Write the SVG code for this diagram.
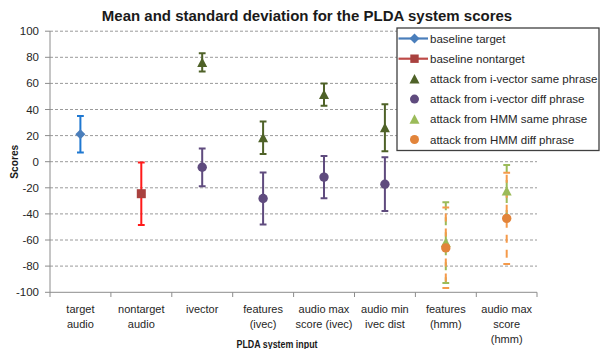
<svg xmlns="http://www.w3.org/2000/svg" width="601" height="349" viewBox="0 0 601 349">
  <style>
    text { font-family: "Liberation Sans", Arial, sans-serif; fill: #1a1a1a; }
    .title { font-size: 15px; font-weight: bold; }
    .tick { font-size: 11.5px; text-anchor: end; fill: #262626; }
    .cat { font-size: 11px; text-anchor: middle; fill: #262626; }
    .axt { font-size: 10.5px; font-weight: bold; }
    .leg { font-size: 11.5px; fill: #262626; }
    .grid { stroke: #9a9a9a; stroke-width: 1; stroke-dasharray: 3 2; }
    .axis { stroke: #8c8c8c; stroke-width: 1; fill: none; }
    .bar { stroke-width: 2; fill: none; }
    .blue { stroke: #1f78d1; }
    .red { stroke: #ff1a1a; }
    .olive { stroke: #4f6228; }
    .purple { stroke: #5f4b7e; }
    .lgreen { stroke: #9bbb59; }
    .orange { stroke: #f59a4a; }
    .dash { stroke-dasharray: 8 7; }
  </style>
  <defs>
    <path id="tri" d="M0,-5 L5,4.5 L-5,4.5 Z"/>
    <path id="dia" d="M0,-5 L5,0 L0,5 L-5,0 Z"/>
  </defs>

  <rect width="601" height="349" fill="#ffffff"/>

  <text class="title" x="307" y="20.5" text-anchor="middle">Mean and standard deviation for the PLDA system scores</text>

  <!-- gridlines every 20 units -->
  <g id="grid">
    <line class="grid" x1="50" y1="31.2" x2="537" y2="31.2"/>
    <line class="grid" x1="50" y1="57.3" x2="537" y2="57.3"/>
    <line class="grid" x1="50" y1="83.4" x2="537" y2="83.4"/>
    <line class="grid" x1="50" y1="109.5" x2="537" y2="109.5"/>
    <line class="grid" x1="50" y1="135.6" x2="537" y2="135.6"/>
    <line class="grid" x1="50" y1="161.7" x2="537" y2="161.7"/>
    <line class="grid" x1="50" y1="187.8" x2="537" y2="187.8"/>
    <line class="grid" x1="50" y1="213.9" x2="537" y2="213.9"/>
    <line class="grid" x1="50" y1="240.0" x2="537" y2="240.0"/>
    <line class="grid" x1="50" y1="266.1" x2="537" y2="266.1"/>
  </g>

  <!-- axes -->
  <g id="axes">
    <path class="axis" d="M50,31.2 V292.3 H537"/>
    <path class="axis" d="M45,31.2 H50 M45,57.3 H50 M45,83.4 H50 M45,109.5 H50 M45,135.6 H50 M45,161.7 H50 M45,187.8 H50 M45,213.9 H50 M45,240 H50 M45,266.1 H50 M45,292.3 H50"/>
    <path class="axis" d="M50,292.3 V297 M110.9,292.3 V297 M171.8,292.3 V297 M232.7,292.3 V297 M293.6,292.3 V297 M354.5,292.3 V297 M415.4,292.3 V297 M476.3,292.3 V297 M537,292.3 V297"/>
    <text class="tick" x="39" y="35.2">100</text>
    <text class="tick" x="39" y="61.3">80</text>
    <text class="tick" x="39" y="87.4">60</text>
    <text class="tick" x="39" y="113.5">40</text>
    <text class="tick" x="39" y="139.6">20</text>
    <text class="tick" x="39" y="165.7">0</text>
    <text class="tick" x="39" y="191.8">-20</text>
    <text class="tick" x="39" y="217.9">-40</text>
    <text class="tick" x="39" y="244">-60</text>
    <text class="tick" x="39" y="270.1">-80</text>
    <text class="tick" x="39" y="296.3">-100</text>
    <text class="axt" transform="translate(17.5,161.7) rotate(-90)" text-anchor="middle" textLength="34" lengthAdjust="spacingAndGlyphs">Scores</text>
  </g>

  <!-- category labels -->
  <g id="categories">
    <text class="cat" x="80.4" y="312.5">target</text>
    <text class="cat" x="80.4" y="327.5">audio</text>
    <text class="cat" x="141.3" y="312.5">nontarget</text>
    <text class="cat" x="141.3" y="327.5">audio</text>
    <text class="cat" x="202.2" y="312.5">ivector</text>
    <text class="cat" x="263.1" y="312.5">features</text>
    <text class="cat" x="263.1" y="327.5">(ivec)</text>
    <text class="cat" x="324" y="312.5">audio max</text>
    <text class="cat" x="324" y="327.5">score (ivec)</text>
    <text class="cat" x="384.9" y="312.5">audio min</text>
    <text class="cat" x="384.9" y="327.5">ivec dist</text>
    <text class="cat" x="445.8" y="312.5">features</text>
    <text class="cat" x="445.8" y="327.5">(hmm)</text>
    <text class="cat" x="506.7" y="312.5">audio max</text>
    <text class="cat" x="506.7" y="327.5">score</text>
    <text class="cat" x="506.7" y="342.5">(hmm)</text>
    <text class="axt" x="277" y="347.5" text-anchor="middle" textLength="81" lengthAdjust="spacingAndGlyphs">PLDA system input</text>
  </g>

  <!-- error bars (mean ± std) -->
  <g id="error-bars">
    <path class="bar blue" d="M80.4,116 V152.6 M77,116 H83.8 M77,152.6 H83.8"/>
    <path class="bar red" d="M141.3,162.4 V225 M137.9,162.4 H144.7 M137.9,225 H144.7"/>

    <path class="bar olive" d="M202.2,53.3 V71.6 M198.8,53.3 H205.6 M198.8,71.6 H205.6"/>
    <path class="bar olive" d="M263.1,121.6 V154 M259.7,121.6 H266.5 M259.7,154 H266.5"/>
    <path class="bar olive" d="M324,83.4 V105.8 M320.6,83.4 H327.4 M320.6,105.8 H327.4"/>
    <path class="bar olive" d="M384.9,104.3 V151.3 M381.5,104.3 H388.3 M381.5,151.3 H388.3"/>

    <path class="bar purple" d="M202.2,148.4 V186.2 M198.8,148.4 H205.6 M198.8,186.2 H205.6"/>
    <path class="bar purple" d="M263.1,172.4 V224.6 M259.7,172.4 H266.5 M259.7,224.6 H266.5"/>
    <path class="bar purple" d="M324,156 V198.3 M320.6,156 H327.4 M320.6,198.3 H327.4"/>
    <path class="bar purple" d="M384.9,157.3 V211 M381.5,157.3 H388.3 M381.5,211 H388.3"/>

    <path class="bar lgreen dash" d="M445.8,202.2 V283.1"/>
    <path class="bar lgreen" d="M442.4,202.2 H449.2 M442.4,283.1 H449.2"/>
    <path class="bar lgreen dash" d="M506.7,165 V217.2"/>
    <path class="bar lgreen" d="M503.3,165 H510.1 M503.3,217.2 H510.1"/>

    <path class="bar orange dash" d="M445.8,207.6 V288.1" stroke-dashoffset="-6"/>
    <path class="bar orange" d="M442.4,207.6 H449.2 M442.4,288.1 H449.2"/>
    <path class="bar orange dash" d="M506.7,172.7 V264.1" stroke-dashoffset="-2"/>
    <path class="bar orange" d="M503.3,172.7 H510.1 M503.3,264.1 H510.1"/>
  </g>

  <!-- series markers -->
  <g id="series-baseline-target" fill="#4a7ebb">
    <use href="#dia" x="80.4" y="134.3"/>
  </g>
  <g id="series-baseline-nontarget" fill="#a9413f">
    <rect x="136.8" y="189.2" width="9" height="9"/>
  </g>
  <g id="series-ivec-same" fill="#4f6228">
    <use href="#tri" x="202.2" y="62.5"/>
    <use href="#tri" x="263.1" y="137.8"/>
    <use href="#tri" x="324" y="94.6"/>
    <use href="#tri" x="384.9" y="127.8"/>
  </g>
  <g id="series-ivec-diff" fill="#5f4b7e">
    <circle cx="202.2" cy="167.3" r="4.7"/>
    <circle cx="263.1" cy="198.5" r="4.7"/>
    <circle cx="324" cy="177.1" r="4.7"/>
    <circle cx="384.9" cy="184.2" r="4.7"/>
  </g>
  <g id="series-hmm-same" fill="#9bbb59">
    <use href="#tri" x="445.8" y="242.6"/>
    <use href="#tri" x="506.7" y="191.1"/>
  </g>
  <g id="series-hmm-diff" fill="#e2843a">
    <circle cx="445.8" cy="247.9" r="4.7"/>
    <circle cx="506.7" cy="218.4" r="4.7"/>
  </g>

  <!-- legend -->
  <g id="legend">
    <rect x="397" y="28" width="202" height="122.5" fill="#ffffff" stroke="#404040" stroke-width="1.3"/>
    <line x1="398.5" y1="38.5" x2="428" y2="38.5" stroke="#4a7ebb" stroke-width="2.2"/>
    <use href="#dia" x="414.5" y="38.5" fill="#4a7ebb"/>
    <text class="leg" x="430" y="42.5">baseline target</text>
    <line x1="398.5" y1="58.7" x2="428" y2="58.7" stroke="#be4b48" stroke-width="2.2"/>
    <rect x="410.3" y="54.5" width="8.4" height="8.4" fill="#a9413f"/>
    <text class="leg" x="430" y="62.7">baseline nontarget</text>
    <use href="#tri" x="414.5" y="78.9" fill="#4f6228"/>
    <text class="leg" x="430" y="82.9">attack from i-vector same phrase</text>
    <circle cx="414.5" cy="99.1" r="4.5" fill="#5f4b7e"/>
    <text class="leg" x="430" y="103.1">attack from i-vector diff phrase</text>
    <use href="#tri" x="414.5" y="119.3" fill="#9bbb59"/>
    <text class="leg" x="430" y="123.3">attack from HMM same phrase</text>
    <circle cx="414.5" cy="139.5" r="4.5" fill="#e2843a"/>
    <text class="leg" x="430" y="143.5">attack from HMM diff phrase</text>
  </g>
</svg>
